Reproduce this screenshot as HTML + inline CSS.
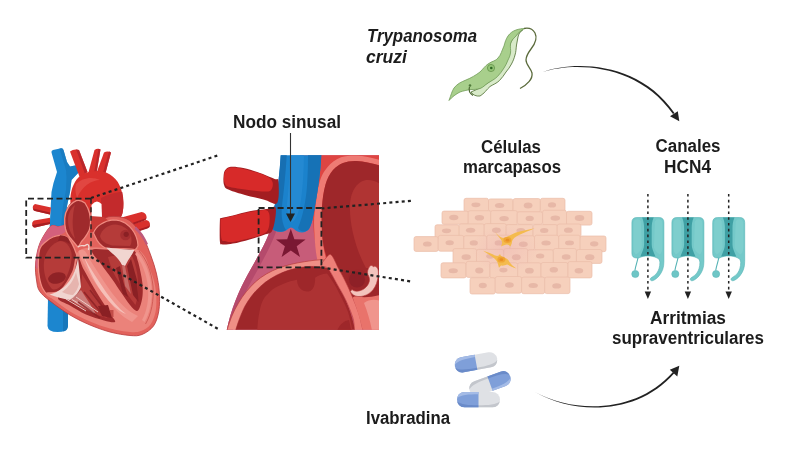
<!DOCTYPE html>
<html lang="es"><head><meta charset="utf-8"><title>Nodo sinusal - Trypanosoma cruzi - Ivabradina</title>
<style>
html,body{margin:0;padding:0;background:#fff;}
body{width:800px;height:450px;overflow:hidden;font-family:"Liberation Sans",sans-serif;}
svg{display:block;filter:blur(0.45px)}
</style></head><body>
<svg width="800" height="450" viewBox="0 0 800 450">
<rect width="800" height="450" fill="#ffffff"/>
<!-- heart -->
<g>
<!-- IVC -->
<path d="M48,298 L47.500,326 Q48,332 57.500,332 Q67.500,332 68,326 L68,305 Z" fill="#1c86cf"/>
<path d="M63,302 L63,331.500 Q67.500,331 68,326 L68,305 Z" fill="#1877bb"/>
<!-- SVC -->
<path d="M51.500,152.500 Q51,150.500 53,150 L61,148.300 Q63,148 63.500,150 L67,162 L70,166.500 L77.500,165 L79.500,171.500 L71.500,180 L70,192 L67,206 L64.500,228 L49.500,230 L50.500,210 L51.500,192 L53.500,183 L57,172 Z" fill="#1c86cf"/>
<path d="M59.500,148.600 L61,148.300 Q63,148 63.500,150 L67,162 L70,166.500 L77.500,165 L79.500,171.500 L71.500,180 L70,192 L67,206 L64.500,228 L61,228 L63,206 L66,190 L66.500,178 L66,170 L63,160 Z" fill="#1877bb" opacity="0.700"/>
<!-- left-side pulmonary stubs -->
<path d="M35,204 Q32,205.500 33,209 Q33.300,210.500 35,211 L50,214.500 L51,207.500 Z" fill="#d9302c"/>
<path d="M34,220.500 Q31.500,222 32.300,225.500 Q32.800,227.800 35,227.500 L50,224 L50,217.800 Z" fill="#d9302c"/>
<path d="M33,208.500 L50,212.500 L50,214.500 L35,211 Q33.300,210.500 33,208.500 Z M32.300,225 L50,222 L50,224 L35,227.500 Q32.800,227.800 32.300,225Z" fill="#a81e22"/>
<!-- right-side pulmonary stubs -->
<g transform="translate(0.500,1.500)">
<path d="M121,216 L141,210.500 Q145.500,211 146,215 Q146,218 143,219 L126,225 Z" fill="#d9302c"/>
<path d="M128,224 L145.500,218.500 Q149,219 149.500,222.500 Q149.500,225.500 147,226.500 L130,232 Z" fill="#d9302c"/>
<path d="M126,223.500 L143,217.500 Q146,217 146,215 L146,216.500 Q146,218.500 143,219.500 L126,225.500Z M130,230.500 L147,225 Q149.500,224 149.500,222.500 L149.500,224 Q149.500,226 147,227 L130,232.500Z" fill="#a81e22"/>
</g>
<!-- Aorta branches -->
<path d="M70,151.500 Q74,148.500 79,150 L87.500,172 L80,178 Z" fill="#d9302c"/>
<path d="M94.500,150 Q97.500,148 100.500,149.500 L96.500,173 L88,174 Z" fill="#d9302c"/>
<path d="M104,152.500 Q107.500,150.500 111,152.500 L105,175 L96.500,173 Z" fill="#d9302c"/>
<path d="M98.500,148.800 L100.500,149.500 L96.500,173 L94,173.300 Z M109,151.300 L111,152.500 L105,175 L102.500,174.400 Z M76,149.200 L79,150 L87.500,172 L85,174 Z" fill="#b3242a" opacity="0.800"/>
<!-- Aorta arch -->
<path d="M75,182 C79,174 89,170.500 99,171 C110,172 118,179 121,189 C123.500,197 124,206 122.500,213 C121.500,217.500 119,219.500 115,220.500 L72,224 L70.500,204 C70,196 71,189 75,182 Z" fill="#d9302c"/>
<path d="M101,198 C108,194.500 116,192 122.300,192 C123.700,199 124,207 122.500,213 C121.500,217.500 119,219.500 115,220.500 L101,222 Z" fill="#c32a2c"/>
<path d="M76,184 C82,178 92,176 100,180 C92,180 82,186 77,198 C75,192 75,188 76,184Z" fill="#e4504a" opacity="0.700"/>
<!-- Heart body -->
<path d="M51.0,226.0 C48.5,227.8 45.2,233.2 43.0,237.0 C40.8,240.8 39.2,244.3 38.0,249.0 C36.8,253.7 35.8,259.8 35.5,265.0 C35.2,270.2 35.8,275.7 36.5,280.0 C37.2,284.3 37.2,287.5 39.5,291.0 C41.8,294.5 44.9,297.0 50.0,301.0 C55.1,305.0 63.3,311.0 70.0,315.0 C76.7,319.0 83.3,322.2 90.0,325.0 C96.7,327.8 103.3,330.2 110.0,332.0 C116.7,333.8 124.7,335.1 130.0,335.5 C135.3,335.9 138.1,336.1 142.0,334.5 C145.9,332.9 150.7,329.9 153.5,326.0 C156.3,322.1 157.8,316.7 158.8,311.0 C159.8,305.3 159.7,298.3 159.3,292.0 C158.9,285.7 157.7,279.0 156.3,273.0 C154.9,267.0 153.0,261.5 151.0,256.0 C149.0,250.5 146.8,244.7 144.5,240.0 C142.2,235.3 140.1,231.6 137.0,228.0 C133.9,224.4 130.5,220.4 126.0,218.5 C121.5,216.6 115.0,216.1 110.0,216.5 C105.0,216.9 99.7,222.4 96.0,221.0 C92.3,219.6 90.7,211.3 88.0,208.0 C85.3,204.7 82.3,202.2 80.0,201.0 C77.7,199.8 76.0,199.5 74.0,200.5 C72.0,201.5 69.5,204.4 68.0,207.0 C66.5,209.6 65.7,213.0 65.0,216.0 C64.3,219.0 65.2,223.2 64.0,225.0 C62.8,226.8 60.2,226.3 58.0,226.5 C55.8,226.7 53.5,224.2 51.0,226.0 Z" fill="#e2625c" stroke="#b8393a" stroke-width="0.800"/>
<!-- pink RA wall -->
<path d="M51.0,226.0 C48.5,227.8 45.2,233.2 43.0,237.0 C40.8,240.8 39.2,244.3 38.0,249.0 C36.8,253.7 35.4,261.8 35.5,265.0 C35.6,268.2 37.6,269.7 38.5,268.0 C39.4,266.3 39.6,259.0 41.0,255.0 C42.4,251.0 44.5,247.0 47.0,244.0 C49.5,241.0 53.0,239.0 56.0,237.0 C59.0,235.0 63.7,233.9 65.0,232.0 C66.3,230.1 65.2,226.4 64.0,225.5 C62.8,224.6 60.2,226.4 58.0,226.5 C55.8,226.6 53.5,224.2 51.0,226.0 Z" fill="#d4607c"/>
<!-- white gap -->
<path d="M91.500,205 Q96.500,198.500 101.500,204 L102,217 L91.500,217 Z" fill="#ffffff"/>
<!-- pulmonary trunk shade right of upper chamber -->
<path d="M90,216 L104,217 L110,222 L98,232 L90,232Z" fill="#c93a36"/>
<!-- purple-ish tint on right edge -->
<path d="M136,226.500 C141,231 145,237 148,244 L146,245 C143,238.500 139,233 134.500,229 Z" fill="#bd5a7c"/>
<!-- upper chamber (RVOT / aortic root) -->
<path d="M76.200,200.700 C72,203 69.500,205.500 68.200,207.800 C66,211 65,214 64.700,218.400 C64.500,222 64.700,225 65.500,229 C66.500,233 68.500,236.500 71.800,239.800 C74,242.500 76,245 78,247 C79.500,245.500 80.500,243.500 81.500,241.500 C83.500,239.500 85.500,237 87,234.400 C89,231.500 90,229 90.400,225.500 C91,221 90.500,217 89.500,213 C88.500,209 87,206 85,203 C82,200.500 79,199.800 76.200,200.700 Z" fill="#9f2a2c" stroke="#f08a80" stroke-width="1.300"/>
<path d="M75,205 C70,209 68,214 68,220 C68,228 71,234 75,239 C73,232 72,224 73,216 C73.500,211 74,208 75,205Z" fill="#b53b39"/>
<!-- RA chamber -->
<path d="M39.8,248.7 C41.1,244.9 43.8,243.4 46.0,241.5 C48.2,239.6 50.6,238.0 53.0,237.0 C55.4,236.0 57.7,235.1 60.2,235.3 C62.7,235.5 65.8,235.8 68.2,238.0 C70.6,240.2 72.8,244.9 74.4,248.7 C76.0,252.5 77.7,257.1 78.0,261.0 C78.3,264.9 77.3,268.2 76.0,272.0 C74.7,275.8 72.7,280.3 70.0,284.0 C67.3,287.7 63.3,291.9 60.0,294.0 C56.7,296.1 52.8,297.3 50.0,296.5 C47.2,295.7 44.8,292.1 43.0,289.0 C41.2,285.9 40.3,282.2 39.5,278.0 C38.7,273.8 38.2,268.9 38.3,264.0 C38.3,259.1 38.5,252.4 39.8,248.7 Z" fill="#9f2a2c" stroke="#f08a80" stroke-width="1.300"/>
<path d="M44,262 C45,252 52,243 60,241 C66,241 70,246 71.500,253 C72.500,262 69,272 64,282 C60,288 56,291 52,289 C46,283 43,272 44,262Z" fill="#b53b39"/>
<ellipse cx="57" cy="278" rx="9" ry="5.500" fill="#8f2226" transform="rotate(-12 57 278)"/>
<path d="M60,235.300 C63.500,235.300 66,236.200 68.200,238 L70,244 C66,241 62,240 58,241Z" fill="#8f2226"/>
<!-- LA chamber -->
<path d="M93.500,233 C95,229 97.500,226 100.700,224.200 C104,222 108,220.200 113,219.800 C118,219.800 122,221 125.500,223.300 C130,226.500 134,231 136.200,236.700 C137.500,240 138,243 138,245.500 C137.500,247.500 136.500,249 134.400,250 L112,249 C109,248.800 107,248.500 106,248.200 C101,246 97,241 95.300,236.700 Z" fill="#9f2a2c" stroke="#f08a80" stroke-width="1.200"/>
<path d="M100,236 C102,229 108,225 115,224.500 C121,224.500 127,228 130,233 C132,238 132,243 130,246 L112,245.500 C106,244 101,241 100,236Z" fill="#b53b39"/>
<circle cx="125.500" cy="235" r="5.300" fill="#a52e30"/>
<circle cx="126.200" cy="234.300" r="2.600" fill="#8a2024"/>
<!-- ventricular wall lighter salmon -->
<path d="M80.0,250.0 C86.3,246.0 100.8,248.2 110.0,248.0 C119.2,247.8 129.2,247.7 135.0,249.0 C140.8,250.3 142.1,252.8 144.5,256.0 C146.9,259.2 147.9,263.7 149.5,268.0 C151.1,272.3 153.2,277.3 154.3,282.0 C155.4,286.7 156.1,291.0 156.3,296.0 C156.5,301.0 156.5,307.2 155.5,312.0 C154.5,316.8 152.9,321.3 150.5,324.5 C148.1,327.7 144.4,329.8 141.0,331.0 C137.6,332.2 135.2,332.4 130.0,332.0 C124.8,331.6 116.7,330.2 110.0,328.5 C103.3,326.8 96.7,324.3 90.0,321.5 C83.3,318.7 76.0,315.1 70.0,311.5 C64.0,307.9 58.0,303.1 54.0,300.0 C50.0,296.9 45.0,294.7 46.0,293.0 C47.0,291.3 55.7,293.5 60.0,290.0 C64.3,286.5 68.7,278.7 72.0,272.0 C75.3,265.3 73.7,254.0 80.0,250.0 Z" fill="#eb827a"/>
<!-- ventricular cavities: RV -->
<path d="M78.0,258.0 C79.7,257.3 81.3,265.0 84.0,270.0 C86.7,275.0 90.7,282.3 94.0,288.0 C97.3,293.7 101.2,299.5 104.0,304.0 C106.8,308.5 109.2,312.0 111.0,315.0 C112.8,318.0 116.2,321.1 115.0,322.0 C113.8,322.9 108.8,321.8 104.0,320.5 C99.2,319.2 91.7,317.0 86.0,314.5 C80.3,312.0 74.7,308.2 70.0,305.5 C65.3,302.8 58.7,301.1 58.0,298.5 C57.3,295.9 63.3,294.1 66.0,290.0 C68.7,285.9 72.0,279.3 74.0,274.0 C76.0,268.7 76.3,258.7 78.0,258.0 Z" fill="#9f2a2c"/>
<path d="M82,274 C88,284 96,296 102,307 C104,311 106,315 107,318 C96,315 84,310 74,303 C78,296 82,286 82,274Z" fill="#b53b39"/>
<!-- LV -->
<path d="M92.0,250.0 C93.8,247.7 105.2,250.0 112.0,250.0 C118.8,250.0 128.8,248.3 133.0,250.0 C137.2,251.7 136.2,256.3 137.5,260.0 C138.8,263.7 139.7,268.0 140.5,272.0 C141.3,276.0 142.2,280.0 142.5,284.0 C142.8,288.0 142.9,292.2 142.5,296.0 C142.1,299.8 141.0,304.2 140.0,306.7 C139.0,309.2 138.2,311.3 136.5,311.0 C134.8,310.7 132.5,308.0 130.0,305.0 C127.5,302.0 124.5,297.3 121.5,293.0 C118.5,288.7 115.4,283.8 112.0,279.0 C108.6,274.2 104.3,268.8 101.0,264.0 C97.7,259.2 90.2,252.3 92.0,250.0 Z" fill="#9f2a2c"/>
<path d="M108,257 C116,255 126,255 132,256 C135.500,263 137.500,272 138,282 C138.500,291 137.500,299 135.500,305 C130,298 123.500,289 117,279 C112,271 110,264 108,257Z" fill="#b53b39"/>
<!-- thin dark line in lateral wall -->
<path d="M139,251 C146.500,259 151.500,272 153,286 C154,300 151.500,314 145.500,324" fill="none" stroke="#cf5852" stroke-width="0.900"/>
<!-- LV outer wall lighter band -->
<path d="M137,252 C145,260 150,273 151.500,287 C152.500,300 150,313 144.500,322 L142,320 C147,311 149,299 148,287 C146.500,274 142,262 135,254Z" fill="#f0958d"/>
<!-- septum -->
<path d="M78.500,251 C81,249 84.500,249.500 86,252.500 C90,260 95,268 100,275.500 C104,281.500 108,287.500 112,293 C116,298 120,303 125,307.500 C130,312 134,314 138,316 L132,322 C127,319 122,316 118,312 C114,308 111,304 108,300 C104,295 100,290 96.500,285 C92.500,279 89,274 86,268 C83,263 80,257 78.500,251 Z" fill="#f0958d"/>
<path d="M84,257 C90,268 98,280 106,292 C112,300 118,308 126,314 C118,311 110,303 104,295 C96,285 89,271 84,257Z" fill="#f6bfb8"/>
<!-- tricuspid valve (whitish) -->
<path d="M78,258 C76,270 72,280 64,287 C59,291 54,293.500 49.500,294.500 C56,297 63,299 70,300 C75,297 79,292 81,287 C80,277 79,267 78,258 Z" fill="#f1d5d0"/>
<path d="M76,272 C74,280 69,287 62,292 C66,294 70,295 73,295 C76,292 78,288 79,284 C78,280 77,276 76,272Z" fill="#e6b4ae"/>
<!-- chordae RV -->
<path d="M70,300 L81,290 L90,304 L96,314 L84,308Z" fill="#d79a95" opacity="0.700"/>
<path d="M72,299.500 L94,313 M76,297 L98,312 M66,299 L86,311" stroke="#f1d5d0" stroke-width="0.900" fill="none"/>
<path d="M84,292 L104,316 M90,290 L110,317 M78,302 L100,318" stroke="#8a2024" stroke-width="1.600" fill="none" opacity="0.800"/>
<path d="M104,309 h4 v7 h-4z M110,310 h3.500 v7 h-3.500z" fill="#c24c48"/>
<!-- mitral valve (whitish) -->
<path d="M106,247.500 C114,248.500 126,249.500 134.400,250 C132.500,254 130,257.500 128,260.500 L125,266 L122,265 C120,261 117,257 113,254 C110,251.500 108,249.500 106,247.500 Z" fill="#f1d5d0"/>
<path d="M122,265 L125,266 L127,276 L131,294 L125,286 Z" fill="#c86a66"/>
<!-- papillary muscles LV -->
<path d="M116,268 L120,266 L123,281 L128,297 L123,294 Z" fill="#8a2024"/>
<path d="M127,266 L131,259 L137,280 L138.500,302 L133,295 Z" fill="#8a2024"/>
<!-- trabeculae at RV bottom -->
<path d="M98,306 L108,305 L112,318 L102,316 Z" fill="#8a2024"/>
<!-- aortic-valve squiggle -->
<path d="M78,247 C81,244 84,247 86,245 C88,243 90,246 88.500,250" fill="none" stroke="#f1d5d0" stroke-width="1.400"/>
</g>

<!-- mid -->
<defs><clipPath id="midclip"><rect x="215" y="155.200" width="164" height="174.600"/></clipPath></defs>
<g clip-path="url(#midclip)">
<!-- heart outer body (pink RA wall) -->
<path d="M272,224 C268,240 258,256 248,274 C238,292 230,312 226,334 L380,334 L380,150 L300,150 L300,224 Z" fill="#c75c79"/>
<!-- darker pink left edge -->
<path d="M272,224 C268,240 258,256 248,274 C238,292 230,312 226,334 L232,334 C236,314 243,296 252,280 C261,264 270,248 276,232 Z" fill="#b54a6c"/>
<!-- top-right red region (aorta outer) -->
<path d="M320,150 L380,150 L380,270 L322,270 C316,250 312,230 313,210 C315,190 320,170 320,150 Z" fill="#de4542"/>
<!-- aorta wall band (salmon) -->
<path d="M314.400,232 C313.500,220 314.500,212 315.500,206.700 C316.500,198 317.500,190 319,184.400 C321,176 324,171 327.800,166.700 C331,163 335,159.500 341,157.300 C346,155.800 351,155.300 356.700,155.500 C364,156 372,157.500 380,160 L380,165.700 C372,163 364,161.400 356.700,161 C351,160.800 347,161.500 343,163 C339,164.500 336,167 333,170 C329.500,174 327,179 325.500,184.400 C323.500,192 322.500,199 322,206.700 C321.500,214 321.500,222 322,232 C322.500,246 325,258 330,270 L320,270 C316,258 315,246 314.400,232 Z" fill="#ee7b74"/>
<!-- aorta lumen dark -->
<path d="M322,232 C321.500,222 321.500,214 322,206.700 C322.500,199 323.500,192 325.500,184.400 C327,179 329.500,174 333,170 C336,167 339,164.500 343,163 C347,161.500 351,160.800 356.700,161 C364,161.400 372,163 380,165.700 L380,300 L350,300 C336,282 323,258 322,232 Z" fill="#9e272a"/>
<!-- aorta lumen lighter inner shape -->
<path d="M350,204 C351,190 358,180 368,180 C373,180 377,182 380,184 L380,268 L366,268 C356,250 349,224 350,204 Z" fill="#b03433"/>
<!-- blue SVC -->
<path d="M281,150 L321.500,150 C321,170 318,190 315,206 C313.500,216 312,224 309,229 C305,234 298,233 294,229 C292,227 290,227 288,229 C284,233 275,233 271.500,228 C270,222 273,212 275,204 C278,188 280,170 281,150 Z" fill="#1b82cc"/>
<path d="M281,150 L287,150 C286,170 284,190 282,206 C281,214 282,224 286,230 C282,232.500 275,232 271.500,228 C270,222 273,212 275,204 C278,188 280,170 281,150 Z" fill="#176fb2"/>
<path d="M308,150 L321.500,150 C321,170 318,190 315,206 C313.500,216 312,224 309,229 C305,233 300,232 298,228 C303,216 306,200 307,186 C308,172 308,160 308,150Z" fill="#1672b6"/>
<path d="M290,150 L304,150 C304,166 303,186 301,200 C299,212 296,220 292,222 C289,220 287,212 287,204 C289,186 290,168 290,150Z" fill="#2489d2"/>
<!-- upper red stub -->
<path d="M223.5,177.8 C223.6,175.4 223.7,172.4 224.9,170.5 C226.2,168.7 227.7,167.2 230.8,166.8 C233.9,166.4 238.8,167.1 243.3,168.0 C247.8,168.9 252.7,170.4 257.9,172.2 C263.1,174.0 271.2,177.4 274.6,178.9 C278.0,180.3 278.0,177.0 278.4,181.0 C278.8,185.0 279.5,199.8 277.1,202.9 C274.8,206.0 269.8,201.1 264.2,199.8 C258.6,198.4 249.4,196.3 243.3,194.5 C237.2,192.8 230.9,190.9 227.7,189.3 C224.5,187.7 224.8,187.1 224.1,185.1 C223.4,183.2 223.3,180.3 223.5,177.8 Z" fill="#a31d21"/>
<path d="M223.9,177.8 C224.0,175.7 224.2,172.6 225.4,170.9 C226.5,169.2 227.8,168.0 230.8,167.6 C233.8,167.3 239.0,168.0 243.3,168.9 C247.7,169.7 252.7,171.2 256.9,172.6 C261.1,174.0 265.8,175.6 268.4,177.2 C271.0,178.8 271.9,180.2 272.5,182.0 C273.2,183.9 272.8,186.7 272.1,188.3 C271.4,189.8 270.9,191.0 268.4,191.4 C265.8,191.9 261.1,191.3 256.9,191.0 C252.7,190.6 248.0,190.0 243.3,189.3 C238.6,188.6 231.8,187.8 228.7,186.8 C225.6,185.8 225.7,185.0 224.9,183.5 C224.1,182.0 223.8,179.9 223.9,177.8 Z" fill="#d72a29"/>
<!-- lower red stub -->
<path d="M219.9,220.6 C220.2,216.7 219.2,219.0 221.4,218.1 C223.6,217.3 228.2,216.6 232.9,215.4 C237.6,214.3 244.0,212.3 249.6,211.2 C255.1,210.2 261.9,209.7 266.3,209.1 C270.6,208.6 274.6,204.6 275.7,208.1 C276.7,211.6 274.5,225.6 272.5,230.0 C270.6,234.5 268.0,233.3 264.2,234.8 C260.4,236.4 254.8,238.0 249.6,239.4 C244.4,240.9 237.4,242.8 232.9,243.6 C228.4,244.4 224.6,244.8 222.4,244.4 C220.3,244.1 220.4,245.5 219.9,241.5 C219.5,237.5 219.7,224.5 219.9,220.6 Z" fill="#a31d21"/>
<path d="M220.6,220.6 C220.7,217.4 220.0,219.5 222.0,218.8 C224.1,218.0 228.3,217.2 232.9,216.0 C237.5,214.9 244.4,213.1 249.6,212.1 C254.8,211.1 261.0,209.9 264.2,210.0 C267.4,210.1 267.9,210.9 268.8,212.7 C269.7,214.5 269.8,217.7 269.6,220.6 C269.5,223.5 269.2,227.7 267.9,230.0 C266.7,232.3 265.2,233.1 262.1,234.4 C259.0,235.8 254.4,236.9 249.6,238.2 C244.7,239.4 237.0,241.4 232.9,241.9 C228.8,242.4 226.9,241.7 224.9,241.1 C223.0,240.5 222.1,241.8 221.4,238.4 C220.7,235.0 220.5,223.9 220.6,220.6 Z" fill="#d72a29"/>
<!-- salmon arc band over RA chamber -->
<path d="M226,334 C229,322 233,312 238.400,303.200 C243,295 249,288 255.400,281.900 C262,276 270,271.500 278.800,268 C287,265 296,263 304.400,261.700 C310,260.800 316,260 321.400,259.600 L325.600,260.600 L321.400,267 C316,266.300 311,266.300 306.500,266.600 C298,267.500 290,269.500 283,272.300 C274,276 267,280.500 260.700,286.200 C254,292 249,299 244.800,306.400 C241,314 238,322 234.500,334 Z" fill="#ef8f86" stroke="#b93c3c" stroke-width="0.700"/>
<!-- RA chamber dark -->
<path d="M234.500,334 C238,322 241,314 244.800,306.400 C249,299 254,292 260.700,286.200 C267,280.500 274,276 283,272.300 C290,269.500 298,267.500 306.500,266.600 C311,266.300 316,266.300 321.400,267 L328,268 C332,275 337,284 342,293 C347,302 352,314 356,334 Z" fill="#9e272a"/>
<!-- RA chamber inner lighter -->
<path d="M257,334 C257.500,326 258,318 259.500,311.700 C261,304 263,298 268,294 C271,289.500 277,286.500 283,284 C288,282 293,280.500 297,279.800 C297,283 298,286 300,288.300 C302.500,291 306,292 308.600,291.500 C311,291 313,289 314,286.200 C315,283.500 315.300,280.500 315,277.700 C318,275.500 322,274 327,273.400 C330,277 333,282 336,287 C340,295 345,304 348,312 C350,319 352,326 353,334 Z" fill="#ad3233"/>
<path d="M336,334 C338,326 343,321 349,320 L352,334 Z" fill="#9e272a"/>
<!-- right salmon band from aortic wall going down -->
<path d="M321.0,266.0 C321.3,267.7 325.2,265.4 327.8,268.3 C330.4,271.2 333.8,278.2 336.7,283.4 C339.6,288.6 342.8,293.8 345.5,299.4 C348.2,305.0 351.2,312.4 352.7,317.2 C354.2,321.9 354.0,324.8 354.4,327.9 C354.8,331.0 353.4,334.6 355.0,336.0 C356.6,337.4 362.8,337.4 364.0,336.0 C365.2,334.6 363.2,331.6 362.4,327.9 C361.5,324.2 360.5,318.7 358.9,313.7 C357.3,308.7 354.9,303.0 352.7,297.7 C350.5,292.4 347.9,286.6 345.5,281.7 C343.1,276.8 340.8,272.8 338.4,268.3 C336.0,263.9 333.4,256.7 331.3,255.0 C329.2,253.3 327.7,256.2 326.0,258.0 C324.3,259.8 320.7,264.3 321.0,266.0 Z" fill="#ee7f78" stroke="#b93c3c" stroke-width="0.600"/>
<!-- right lower region -->
<path d="M352.700,297.700 C354,296.500 356,296 358,296.500 C364,298 372,297 380,295 L380,336 L364,336 C362,326 359,314 352.700,297.700 Z" fill="#e9736b"/>
<path d="M364,303 C369,299 376,299 380,301 L380,336 L373,336 C371,324 368,313 364,303Z" fill="#f0958d"/>
<!-- valve curl -->
<circle cx="358" cy="280" r="10.500" fill="#9c262a"/>
<circle cx="357" cy="279.500" r="8" fill="#8e2027"/>
<path d="M369.600,266.600 C370.500,264.800 372.500,265.200 373.300,266.800 C374.500,265.500 376.500,266.300 377.500,268.300 C379,271 378.500,277 376.500,283.400 C374.500,288.500 372,291.500 368.700,293.700 C365.500,295.700 362,296.700 358,296.500 C354.500,296.200 352,294.500 350.300,291.600 L352,289.600 C353.500,290.800 355,291.300 357,291.200 C360,291 362.500,290 364.500,288.500 C367,286.500 368.800,284 369.400,281 C369.800,278.500 369,276.500 367.800,274.300 C367,271.500 368,269 369.600,266.600 Z" fill="#f3c4bd" stroke="#b93c3c" stroke-width="0.600"/>
<!-- star -->
<path d="M290.8,228.7 L294.4,239.3 L305.6,239.5 L296.7,246.2 L300.0,256.9 L290.8,250.5 L281.6,256.9 L284.9,246.2 L276.0,239.5 L287.2,239.3 Z" fill="#7a1833"/>
</g>

<!-- lines -->
<g fill="none" stroke="#222">
<!-- dotted connectors heart -> mid -->
<line x1="91" y1="198" x2="219" y2="155" stroke-width="2.200" stroke-dasharray="3 3.200"/>
<line x1="91" y1="257" x2="220" y2="330" stroke-width="2.200" stroke-dasharray="3 3.200"/>
<!-- dashed box on heart -->
<path d="M91,198.700 L26.200,198.700 L26.200,257.600 L91,257.600" stroke-width="1.800" stroke-dasharray="6 3.500"/>
<line x1="91" y1="198.700" x2="91" y2="257.600" stroke-width="1.400" stroke-dasharray="5 3.500"/>
<!-- dashed box on mid -->
<rect x="258.600" y="208" width="62.800" height="59.400" stroke-width="1.800" stroke-dasharray="6 3.500"/>
<!-- dotted connectors mid -> cells -->
<line x1="321.400" y1="208.500" x2="414" y2="200.600" stroke-width="2.200" stroke-dasharray="3 3.200"/>
<line x1="321.400" y1="267.400" x2="413" y2="281.800" stroke-width="2.200" stroke-dasharray="3 3.200"/>
<!-- nodo sinusal arrow -->
<line x1="290.500" y1="133" x2="290.500" y2="214" stroke="#333" stroke-width="1.100" stroke-dasharray="none"/>
<path d="M286,213.500 L295,213.500 L290.500,222 Z" fill="#222" stroke="none"/>
</g>

<!-- cells -->
<defs><radialGradient id="pmglow"><stop offset="0" stop-color="#e9a6b0" stop-opacity="0.300"/><stop offset="1" stop-color="#e9a6b0" stop-opacity="0"/></radialGradient></defs>
<g stroke="#ebbda9" stroke-width="0.700">
<rect x="464.0" y="198.3" width="24.5" height="13.7" rx="2" fill="#f6d0bc"/>
<rect x="488.5" y="198.9" width="24.6" height="12.4" rx="2" fill="#f6d0bc"/>
<rect x="513.1" y="198.6" width="27.3" height="13.6" rx="2" fill="#f6d0bc"/>
<rect x="540.4" y="198.3" width="24.6" height="14.3" rx="2" fill="#f6d0bc"/>
<rect x="442.0" y="211.1" width="26.3" height="13.2" rx="2" fill="#f6d0bc"/>
<rect x="468.3" y="210.7" width="22.5" height="14.4" rx="2" fill="#f6d0bc"/>
<rect x="490.7" y="210.6" width="26.6" height="14.5" rx="2" fill="#f6d0bc"/>
<rect x="517.3" y="211.8" width="25.2" height="12.6" rx="2" fill="#f6d0bc"/>
<rect x="542.6" y="210.3" width="23.9" height="15.0" rx="2" fill="#f6d0bc"/>
<rect x="566.5" y="211.3" width="25.5" height="13.8" rx="2" fill="#f6d0bc"/>
<rect x="435.0" y="224.8" width="24.2" height="13.7" rx="2" fill="#f6d0bc"/>
<rect x="459.2" y="223.9" width="25.1" height="13.5" rx="2" fill="#f6d0bc"/>
<rect x="484.3" y="223.6" width="21.9" height="14.2" rx="2" fill="#f6d0bc"/>
<rect x="506.2" y="224.6" width="26.9" height="13.9" rx="2" fill="#f6d0bc"/>
<rect x="533.1" y="224.6" width="24.1" height="14.1" rx="2" fill="#f6d0bc"/>
<rect x="557.3" y="224.0" width="23.7" height="14.2" rx="2" fill="#f6d0bc"/>
<rect x="414.0" y="236.6" width="24.3" height="14.8" rx="2" fill="#f6d0bc"/>
<rect x="438.3" y="235.4" width="25.5" height="15.8" rx="2" fill="#f6d0bc"/>
<rect x="463.8" y="235.7" width="22.9" height="14.5" rx="2" fill="#f6d0bc"/>
<rect x="486.8" y="235.2" width="23.3" height="16.4" rx="2" fill="#f6d0bc"/>
<rect x="510.1" y="235.8" width="24.4" height="14.6" rx="2" fill="#f6d0bc"/>
<rect x="534.5" y="235.3" width="24.2" height="15.0" rx="2" fill="#f6d0bc"/>
<rect x="558.7" y="235.2" width="21.5" height="16.5" rx="2" fill="#f6d0bc"/>
<rect x="580.2" y="236.0" width="25.8" height="15.7" rx="2" fill="#f6d0bc"/>
<rect x="453.0" y="248.6" width="23.5" height="15.9" rx="2" fill="#f6d0bc"/>
<rect x="476.5" y="249.4" width="27.3" height="14.2" rx="2" fill="#f6d0bc"/>
<rect x="503.8" y="248.6" width="23.9" height="15.0" rx="2" fill="#f6d0bc"/>
<rect x="527.6" y="249.8" width="25.8" height="14.9" rx="2" fill="#f6d0bc"/>
<rect x="553.4" y="248.5" width="23.0" height="15.7" rx="2" fill="#f6d0bc"/>
<rect x="576.5" y="249.5" width="25.5" height="13.9" rx="2" fill="#f6d0bc"/>
<rect x="441.0" y="262.8" width="25.1" height="15.1" rx="2" fill="#f6d0bc"/>
<rect x="466.1" y="261.4" width="24.0" height="16.0" rx="2" fill="#f6d0bc"/>
<rect x="490.0" y="262.8" width="27.6" height="15.5" rx="2" fill="#f6d0bc"/>
<rect x="517.7" y="262.8" width="23.3" height="15.5" rx="2" fill="#f6d0bc"/>
<rect x="541.0" y="262.5" width="27.0" height="15.0" rx="2" fill="#f6d0bc"/>
<rect x="568.0" y="261.6" width="24.0" height="16.3" rx="2" fill="#f6d0bc"/>
<rect x="470.0" y="277.7" width="25.3" height="16.3" rx="2" fill="#f6d0bc"/>
<rect x="495.3" y="276.5" width="26.3" height="16.7" rx="2" fill="#f6d0bc"/>
<rect x="521.6" y="277.1" width="23.1" height="16.6" rx="2" fill="#f6d0bc"/>
<rect x="544.7" y="277.1" width="25.3" height="16.5" rx="2" fill="#f6d0bc"/>
<ellipse cx="475.9" cy="204.8" rx="4.5" ry="2.4" fill="#e7b8a7" stroke="none"/>
<ellipse cx="499.6" cy="205.4" rx="4.7" ry="2.5" fill="#e7b8a7" stroke="none"/>
<ellipse cx="528.1" cy="205.6" rx="4.4" ry="3.0" fill="#e7b8a7" stroke="none"/>
<ellipse cx="552.0" cy="204.9" rx="4.1" ry="2.6" fill="#e7b8a7" stroke="none"/>
<ellipse cx="453.8" cy="217.5" rx="4.6" ry="2.7" fill="#e7b8a7" stroke="none"/>
<ellipse cx="479.4" cy="217.7" rx="4.7" ry="2.8" fill="#e7b8a7" stroke="none"/>
<ellipse cx="504.1" cy="218.6" rx="4.7" ry="2.6" fill="#e7b8a7" stroke="none"/>
<ellipse cx="529.7" cy="218.4" rx="4.1" ry="2.7" fill="#e7b8a7" stroke="none"/>
<ellipse cx="555.3" cy="218.1" rx="4.8" ry="2.6" fill="#e7b8a7" stroke="none"/>
<ellipse cx="579.5" cy="217.9" rx="4.8" ry="3.0" fill="#e7b8a7" stroke="none"/>
<ellipse cx="446.5" cy="230.8" rx="4.6" ry="2.4" fill="#e7b8a7" stroke="none"/>
<ellipse cx="470.6" cy="230.3" rx="4.7" ry="2.5" fill="#e7b8a7" stroke="none"/>
<ellipse cx="496.4" cy="230.3" rx="4.4" ry="2.7" fill="#e7b8a7" stroke="none"/>
<ellipse cx="520.8" cy="230.6" rx="4.4" ry="2.6" fill="#e7b8a7" stroke="none"/>
<ellipse cx="544.2" cy="230.5" rx="4.2" ry="2.5" fill="#e7b8a7" stroke="none"/>
<ellipse cx="568.4" cy="230.2" rx="4.4" ry="2.6" fill="#e7b8a7" stroke="none"/>
<ellipse cx="427.3" cy="244.0" rx="4.4" ry="2.6" fill="#e7b8a7" stroke="none"/>
<ellipse cx="449.7" cy="242.8" rx="4.2" ry="2.5" fill="#e7b8a7" stroke="none"/>
<ellipse cx="473.8" cy="242.9" rx="4.1" ry="2.6" fill="#e7b8a7" stroke="none"/>
<ellipse cx="498.8" cy="242.9" rx="4.2" ry="2.6" fill="#e7b8a7" stroke="none"/>
<ellipse cx="523.3" cy="244.3" rx="4.4" ry="2.7" fill="#e7b8a7" stroke="none"/>
<ellipse cx="546.1" cy="243.1" rx="4.7" ry="2.5" fill="#e7b8a7" stroke="none"/>
<ellipse cx="569.5" cy="242.9" rx="4.5" ry="2.4" fill="#e7b8a7" stroke="none"/>
<ellipse cx="594.2" cy="243.8" rx="4.2" ry="2.6" fill="#e7b8a7" stroke="none"/>
<ellipse cx="466.2" cy="257.1" rx="4.7" ry="2.9" fill="#e7b8a7" stroke="none"/>
<ellipse cx="490.2" cy="256.3" rx="4.0" ry="2.4" fill="#e7b8a7" stroke="none"/>
<ellipse cx="516.3" cy="257.2" rx="4.4" ry="3.0" fill="#e7b8a7" stroke="none"/>
<ellipse cx="540.1" cy="256.1" rx="4.2" ry="2.5" fill="#e7b8a7" stroke="none"/>
<ellipse cx="566.2" cy="257.0" rx="4.4" ry="2.8" fill="#e7b8a7" stroke="none"/>
<ellipse cx="589.7" cy="257.2" rx="4.7" ry="2.9" fill="#e7b8a7" stroke="none"/>
<ellipse cx="453.2" cy="270.7" rx="4.7" ry="2.5" fill="#e7b8a7" stroke="none"/>
<ellipse cx="479.3" cy="270.5" rx="4.1" ry="2.9" fill="#e7b8a7" stroke="none"/>
<ellipse cx="503.4" cy="270.1" rx="4.1" ry="2.4" fill="#e7b8a7" stroke="none"/>
<ellipse cx="529.4" cy="270.7" rx="4.4" ry="2.9" fill="#e7b8a7" stroke="none"/>
<ellipse cx="553.8" cy="269.7" rx="4.2" ry="2.8" fill="#e7b8a7" stroke="none"/>
<ellipse cx="578.9" cy="270.7" rx="4.3" ry="2.7" fill="#e7b8a7" stroke="none"/>
<ellipse cx="482.8" cy="285.5" rx="4.0" ry="2.7" fill="#e7b8a7" stroke="none"/>
<ellipse cx="509.4" cy="285.0" rx="4.4" ry="2.8" fill="#e7b8a7" stroke="none"/>
<ellipse cx="533.2" cy="285.6" rx="4.7" ry="2.5" fill="#e7b8a7" stroke="none"/>
<ellipse cx="556.7" cy="285.9" rx="4.5" ry="2.7" fill="#e7b8a7" stroke="none"/>
</g>
<ellipse cx="505" cy="249" rx="34" ry="24" fill="url(#pmglow)"/>
<g>
<path d="M495,232 C498,235 500,237.500 503,238 C507,237.500 511,234.500 516,232.500 C522,230.500 529,229.500 534.600,228.200 C530,230.500 524,232.500 519,235 C515,237 512.500,239 512,241.500 C512,243.500 511,245 510.500,246.500 C509.500,245.500 508.500,244.500 507,244.500 C505,244.500 503,245.500 501,246.500 C502,244.500 502.500,242.500 501.500,240.500 C500,238 497,235 495,232 Z" fill="#f4bb4e"/>
<ellipse cx="507.400" cy="240" rx="4" ry="3" fill="#f0a534"/>
<ellipse cx="507.600" cy="240.200" rx="1.900" ry="1.400" fill="#e98e22"/>
<path d="M483.300,250.800 C487,252 491,253.500 495,255.500 C497.500,256.500 499,256 500,254 C500.500,256 502,257 504,257.500 C507,258 508.500,260 509.500,262 C511,264.500 513.500,266.500 516.500,268.500 C513,267.800 510,266 507.500,264.500 C505.500,265 503,266 501,265.500 C500,266.500 499.500,267 499,268 C498.500,266 498,264 497.500,262.500 C496.500,260 494,258 491,256 C488,254 485.500,252.500 483.300,250.800 Z" fill="#f4bb4e"/>
<ellipse cx="501.400" cy="259.500" rx="4" ry="3.100" fill="#f0a534"/>
<ellipse cx="501.400" cy="259.700" rx="1.900" ry="1.400" fill="#e98e22"/>
</g>
<!-- channels -->
<defs>
<g id="chan">
  <!-- body + tail -->
  <path d="M-16,5 Q-16,0 -11,0 L11,0 Q16,0 16,5 L16,44 C16,50 14.500,54 11.500,58 C9.500,60.500 7,62.500 4.500,63.200 C2.500,63.600 1.500,61.500 3.200,60.300 C5.500,59 7.500,57.500 9,55.500 C11,52.500 12,49 12,45 C12,43 11,41 9.300,40.500 C6,38.900 3,38.400 0,38.400 C-3,38.400 -6,38.900 -9.300,40.500 L-11,40.500 Q-16,40.500 -16,36 Z" fill="#74c9c9" stroke="#55b3b5" stroke-width="0.600"/>
  <path d="M-12,2 Q-8,1 -7,4 L-6,30 Q-8,35 -12,37 Q-14.500,35 -14.500,30 L-14.500,6 Q-14.500,2.500 -12,2Z M12,2 Q8,1 7,4 L6,30 Q8,35 12,37 Q14.500,35 14.500,30 L14.500,6 Q14.500,2.500 12,2Z" fill="#86d1d0" opacity="0.550"/>
  <!-- chain + ball left -->
  <path d="M-10,40.500 C-10.500,44 -12,47 -13,53" fill="none" stroke="#55b3b5" stroke-width="1.100"/>
  <circle cx="-12.600" cy="56.500" r="3.600" fill="#6ec6c6" stroke="#55b3b5" stroke-width="0.500"/>
  <!-- pore -->
  <path d="M-5.800,0 L5.800,0 C4.200,4 3.800,7 3.800,11 L3.800,27 C3.800,31 5.500,34 7.500,38.900 C5,38.500 2.500,38.400 0,38.400 C-2.500,38.400 -5,38.500 -7.500,38.900 C-5.500,34 -3.800,31 -3.800,27 L-3.800,11 C-3.800,7 -4.200,4 -5.800,0 Z" fill="#3fa0a4"/>
  <!-- dotted arrow -->
  <line x1="0" y1="-23.500" x2="0" y2="74" stroke="#222" stroke-width="1.500" stroke-dasharray="2.600 3.200"/>
  <path d="M-3.200,74 L3.200,74 L0,81.500 Z" fill="#222"/>
</g>
</defs>
<use href="#chan" x="647.900" y="217.500"/>
<use href="#chan" x="687.900" y="217.500"/>
<use href="#chan" x="728.700" y="217.500"/>

<!-- pills -->
<defs>
<g id="pill">
  <rect x="-21.500" y="-7.600" width="43" height="15.200" rx="7.600" fill="#dfe1e5"/>
  <path d="M0,-7.600 L-13.900,-7.600 A7.600,7.600 0 0 0 -13.900,7.600 L0,7.600 Z" fill="#7f9fd9"/>
  <path d="M0,-7.600 L-13.900,-7.600 A7.600,7.600 0 0 0 -21.300,-1.500 C-18,-5 -10,-5.500 0,-5.500 Z" fill="#a4bbe6"/>
  <path d="M0,7.600 L13.900,7.600 A7.600,7.600 0 0 0 21.300,1.500 C18,5 10,5.500 0,5.500 Z" fill="#c3c6cc"/>
  <path d="M0,7.600 L-13.900,7.600 A7.600,7.600 0 0 1 -21.300,1.500 C-18,5 -10,5.500 0,5.500 Z" fill="#6a8bc9"/>
</g>
</defs>
<use href="#pill" transform="translate(476,362.300) rotate(-10.500)"/>
<use href="#pill" transform="translate(490,383.600) rotate(160)"/>
<use href="#pill" transform="translate(478.500,399.700)"/>

<!-- tryp -->
<g>
<!-- undulating membrane (lighter) -->
<path d="M523,29.500 C520,32 518.500,34 518,37 C517.500,40 517,42 516.500,45 C516,49 516,52 515,55 C514,59 513,61 511.500,64 C510,67 508,69.500 506,72 C504,75 502,78 499.500,80.500 C496.500,83.500 493,84.500 490,86.500 C487,89 484,94 480,96 C476,96.500 473,95 471,92 L480,88 L492,80 L503,68 L508,58 L510,44 L514,36 Z" fill="#d8eac9" stroke="#5c7a42" stroke-width="0.900"/>
<!-- body -->
<path d="M449,100.500 C451,95 452,91 454,88 C457,84 461,82 466,80 C471,78 476,75 480,72 C483,69 485,66 488,64 C492,61 496,61 498,58 C501,55 502,50 504,46 C505,42 506,39 508,36 C510,33 513,31 516,30 C519,29 522,28.500 524.500,28.500 C521,30.500 518,33 516,36 C513,39 511,41 510.500,44 C510,47 511,50 510.500,53 C510,56 509,58 508,60 C507,63 505.500,65.500 504,68 C502,71 500,74 497.500,76.500 C494.500,79.500 491,81 488,83 C485,85 483,87.500 480,88.500 C476,89.500 474,89.500 471,89.500 C467,90 463,91 460,92 C456,94 452,97 449,100.500 Z" fill="#a8cf8c" stroke="#6f9a55" stroke-width="0.800"/>
<!-- nucleus -->
<circle cx="491" cy="68" r="3.600" fill="#94c476" stroke="#5d8c44" stroke-width="0.700"/>
<circle cx="491.300" cy="68" r="1.300" fill="#2f6a24"/>
<!-- kinetoplast -->
<circle cx="470" cy="85.500" r="1.300" fill="#4f7a3a"/>
<path d="M469.500,87 C468.500,90 470,93.500 473,95.500" fill="none" stroke="#4f6a35" stroke-width="1.200"/>
<!-- flagellum -->
<path d="M524,28.500 C529,27.500 533,29.500 535,33 C537.500,38 535,44 531,49 C528,53 526,56 526,60 C526,65 531,68 532,73 C533,79 527,85 520,88.500" fill="none" stroke="#5b6b3c" stroke-width="1.300"/>
</g>

<!-- arrows -->
<g fill="#222" stroke="none">
<!-- top curved arrow, tapered -->
<path d="M542.500,72 C575,60 640,62 674.500,113 L673,114 C638.500,64 575,61.300 542.500,72 Z"/>
<path d="M679.300,121.300 L670,116.200 L677.800,111.200 Z"/>
<!-- bottom curved arrow, tapered -->
<path d="M535,392 C575,414 637,413 673,372 L674.300,373.200 C638,415 575,415.300 535,392 Z"/>
<path d="M679.300,365.800 L677.300,376.500 L669.800,369.800 Z"/>
</g>

<!-- text -->
<g font-family="'Liberation Sans', sans-serif" font-weight="bold" font-size="18" fill="#1c1c1c">
<text x="233" y="128" textLength="108" lengthAdjust="spacingAndGlyphs">Nodo sinusal</text>
<text x="367" y="42" font-style="italic" textLength="110" lengthAdjust="spacingAndGlyphs">Trypanosoma</text>
<text x="366" y="62.500" font-style="italic" textLength="41" lengthAdjust="spacingAndGlyphs">cruzi</text>
<text x="481" y="153" textLength="60" lengthAdjust="spacingAndGlyphs">Células</text>
<text x="463" y="172.500" textLength="98" lengthAdjust="spacingAndGlyphs">marcapasos</text>
<text x="655.500" y="152" textLength="65" lengthAdjust="spacingAndGlyphs">Canales</text>
<text x="664" y="172.500" textLength="47" lengthAdjust="spacingAndGlyphs">HCN4</text>
<text x="650" y="324" textLength="76" lengthAdjust="spacingAndGlyphs">Arritmias</text>
<text x="612" y="344" textLength="152" lengthAdjust="spacingAndGlyphs">supraventriculares</text>
<text x="366" y="423.500" textLength="84" lengthAdjust="spacingAndGlyphs">Ivabradina</text>
</g>


</svg>
</body></html>
